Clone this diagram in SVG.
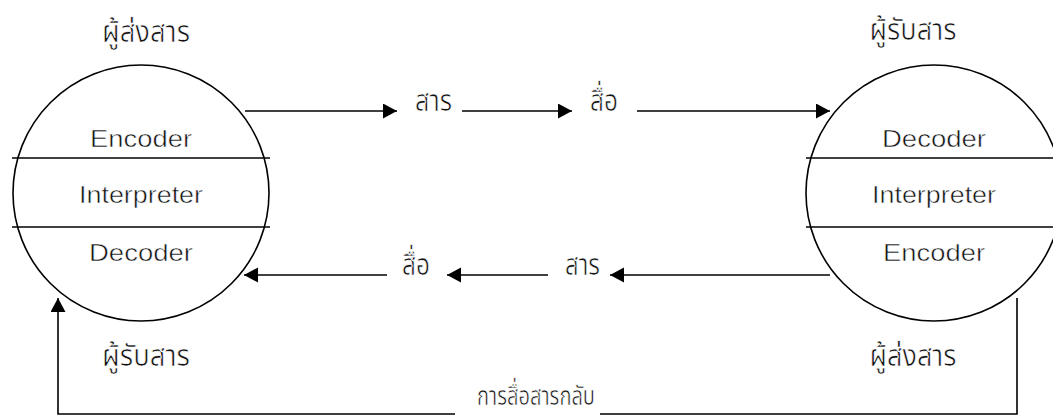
<svg xmlns="http://www.w3.org/2000/svg" width="1053" height="417" viewBox="0 0 1053 417">
<style>
.bg{fill:#fff}
.c{fill:none;stroke:#000;stroke-width:1.6}
.l{fill:none;stroke:#000;stroke-width:1.6}
.en{font-family:"Liberation Sans",Arial,sans-serif;font-size:24px;fill:#111;stroke:#fff;stroke-width:0.5;text-anchor:middle}
.th{font-family:"Noto Sans Thai","Noto Sans","DejaVu Sans",sans-serif;font-size:30px;fill:#111;stroke:#fff;stroke-width:0.7}
.thm{text-anchor:middle}
.fb{font-size:27px}
</style>
<defs>
<marker id="ah" markerWidth="15" markerHeight="16" refX="14" refY="7.5" orient="auto" markerUnits="userSpaceOnUse">
<path d="M0,0 L14,7.5 L0,15 Z" fill="#000"/>
</marker>
</defs>
<rect class="bg" width="1053" height="417"/>
<g id="sender">
<circle class="c" cx="141" cy="193" r="128"/>
<line class="l" x1="12" y1="158" x2="270" y2="158"/>
<line class="l" x1="12" y1="227" x2="270" y2="227"/>
<text class="en" x="141" y="147" textLength="102" lengthAdjust="spacingAndGlyphs">Encoder</text>
<text class="en" x="141" y="203" textLength="124" lengthAdjust="spacingAndGlyphs">Interpreter</text>
<text class="en" x="141" y="261" textLength="104" lengthAdjust="spacingAndGlyphs">Decoder</text>
<text class="th thm" x="146" y="42" textLength="88" lengthAdjust="spacingAndGlyphs">ผู้ส่งสาร</text>
<text class="th thm" x="146" y="366" textLength="88" lengthAdjust="spacingAndGlyphs">ผู้รับสาร</text>
</g>
<g id="receiver">
<circle class="c" cx="934" cy="193" r="128"/>
<line class="l" x1="806" y1="158" x2="1053" y2="158"/>
<line class="l" x1="806" y1="227" x2="1053" y2="227"/>
<text class="en" x="934" y="147" textLength="104" lengthAdjust="spacingAndGlyphs">Decoder</text>
<text class="en" x="934" y="203" textLength="124" lengthAdjust="spacingAndGlyphs">Interpreter</text>
<text class="en" x="934" y="261" textLength="102" lengthAdjust="spacingAndGlyphs">Encoder</text>
<text class="th thm" x="913" y="40" textLength="87" lengthAdjust="spacingAndGlyphs">ผู้รับสาร</text>
<text class="th thm" x="913" y="366" textLength="87" lengthAdjust="spacingAndGlyphs">ผู้ส่งสาร</text>
</g>
<g id="labels">
<text class="th" x="415" y="111" textLength="37" lengthAdjust="spacingAndGlyphs">สาร</text>
<text class="th" x="590" y="111" textLength="28" lengthAdjust="spacingAndGlyphs">สื่อ</text>
<text class="th" x="565" y="275" textLength="35" lengthAdjust="spacingAndGlyphs">สาร</text>
<text class="th" x="402" y="275" textLength="28" lengthAdjust="spacingAndGlyphs">สื่อ</text>
<text class="th fb" x="477" y="405" textLength="118" lengthAdjust="spacingAndGlyphs">การสื่อสารกลับ</text>
</g>
<g id="connectors">
<line class="l" x1="245" y1="111" x2="397" y2="111" marker-end="url(#ah)"/>
<line class="l" x1="462" y1="111" x2="572" y2="111" marker-end="url(#ah)"/>
<line class="l" x1="637" y1="111" x2="830" y2="111" marker-end="url(#ah)"/>
<line class="l" x1="830" y1="275" x2="610" y2="275" marker-end="url(#ah)"/>
<line class="l" x1="548" y1="275" x2="447" y2="275" marker-end="url(#ah)"/>
<line class="l" x1="387" y1="275" x2="244" y2="275" marker-end="url(#ah)"/>
<polyline class="l" points="1017,298 1017,414 600,414"/>
<polyline class="l" points="455,414 58,414 58,298" marker-end="url(#ah)"/>
</g>
</svg>
